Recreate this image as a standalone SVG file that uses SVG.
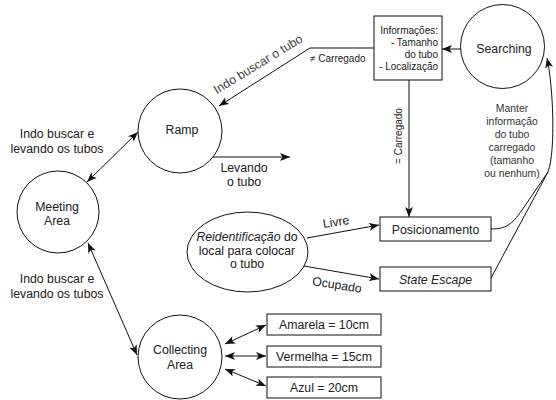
<svg xmlns="http://www.w3.org/2000/svg" width="556" height="400" viewBox="0 0 556 400">
<defs>
<style>
text{font-family:"Liberation Sans",Arial,sans-serif;fill:#222;}
.n{font-size:12.3px;text-anchor:middle;}
.s{font-size:10px;}
.m{font-size:10.4px;text-anchor:middle;fill:#333;}
.shape{fill:#fff;stroke:#111;stroke-width:1;}
.c{fill:none;stroke:#111;stroke-width:1;}
.i{font-style:italic;}
</style>
<marker id="arr" viewBox="0 0 10 8" refX="10" refY="4" markerWidth="10" markerHeight="8" markerUnits="userSpaceOnUse" orient="auto-start-reverse">
<path d="M0,0 L10,4 L0,8 L2.5,4 z" fill="#111"/>
</marker>
</defs>
<rect width="556" height="400" fill="#fff"/>

<g id="connectors">
<path class="c" d="M461,49 L442,49" marker-end="url(#arr)"/>
<path class="c" d="M374,48 L310,48 L219,106" marker-end="url(#arr)"/>
<path class="c" d="M213,157 L290,157" marker-end="url(#arr)"/>
<path class="c" d="M409,80 L409,217" marker-end="url(#arr)"/>
<path class="c" d="M307,238 L379,225" marker-end="url(#arr)"/>
<path class="c" d="M304,266 L379,279" marker-end="url(#arr)"/>
<path class="c" d="M87,182 L138,132" marker-start="url(#arr)" marker-end="url(#arr)"/>
<path class="c" d="M88,243 L137,355" marker-start="url(#arr)" marker-end="url(#arr)"/>
<path class="c" d="M225,344 L266,325" marker-start="url(#arr)" marker-end="url(#arr)"/>
<path class="c" d="M225,356 L266,356" marker-start="url(#arr)" marker-end="url(#arr)"/>
<path class="c" d="M225,369 L266,386" marker-start="url(#arr)" marker-end="url(#arr)"/>
<path class="c" d="M491,229 C505,229 512,225 522,210 L548,172 C556,150 553,85 547,58" marker-end="url(#arr)"/>
<path class="c" d="M491,278 L548,172"/>
<text class="s" x="310" y="62">≠ Carregado</text>
<text class="n" style="fill:#444" transform="translate(258,64) rotate(-31.5)" y="4.3">Indo buscar o tubo</text>
<text class="s" style="text-anchor:middle" transform="translate(398,136) rotate(-90)" y="3.5">= Carregado</text>
<text class="n" x="244" y="171.5">Levando</text>
<text class="n" x="244" y="186">o tubo</text>
<text class="n" x="57" y="137.5">Indo buscar e</text>
<text class="n" x="57" y="152.5">levando os tubos</text>
<text class="n" x="57" y="282.5">Indo buscar e</text>
<text class="n" x="57" y="297.5">levando os tubos</text>
<text class="n" transform="translate(336,222) rotate(-9)" y="4">Livre</text>
<text class="n" transform="translate(337,285) rotate(9)" y="4">Ocupado</text>
<text class="m" x="512" y="111.5">Manter</text>
<text class="m" x="512" y="124.5">informação</text>
<text class="m" x="512" y="137.5">do tubo</text>
<text class="m" x="512" y="150.5">carregado</text>
<text class="m" x="512" y="163.5">(tamanho</text>
<text class="m" x="512" y="176.5">ou nenhum)</text>
</g>

<g id="searching">
<circle class="shape" cx="502.5" cy="46.5" r="42"/>
<text class="n" x="504" y="53">Searching</text>
</g>

<g id="informacoes">
<rect class="shape" x="374" y="16" width="68" height="64"/>
<text class="s" style="text-anchor:end" x="438" y="34">Informações:</text>
<text class="s" style="text-anchor:end" x="438" y="46">- Tamanho</text>
<text class="s" style="text-anchor:end" x="438" y="57.5">do tubo</text>
<text class="s" style="text-anchor:end" x="438" y="69.5">- Localização</text>
</g>

<g id="ramp">
<circle class="shape" cx="180" cy="131" r="42"/>
<text class="n" x="182" y="134">Ramp</text>
</g>

<g id="meeting">
<circle class="shape" cx="58" cy="212" r="41"/>
<text class="n" x="57" y="210.5">Meeting</text>
<text class="n" x="57" y="225">Area</text>
</g>

<g id="collecting">
<circle class="shape" cx="180" cy="357" r="42"/>
<text class="n" x="180" y="354">Collecting</text>
<text class="n" x="180" y="369">Area</text>
</g>

<g id="reidentificacao">
<ellipse class="shape" cx="247.5" cy="252" rx="60.5" ry="40"/>
<text class="n" x="247" y="241"><tspan class="i">Reidentificação</tspan> do</text>
<text class="n" x="247" y="254.5">local para colocar</text>
<text class="n" x="247" y="268">o tubo</text>
</g>

<g id="posicionamento">
<rect class="shape" x="380" y="217" width="111" height="24"/>
<text class="n" x="435.5" y="233.5">Posicionamento</text>
</g>

<g id="state-escape">
<rect class="shape" x="380" y="267" width="111" height="24"/>
<text class="n i" x="435.5" y="283.5">State Escape</text>
</g>

<g id="amarela">
<rect class="shape" x="267" y="314" width="114" height="21"/>
<text class="n" x="324" y="329">Amarela = 10cm</text>
</g>

<g id="vermelha">
<rect class="shape" x="267" y="346" width="114" height="21"/>
<text class="n" x="324" y="361">Vermelha = 15cm</text>
</g>

<g id="azul">
<rect class="shape" x="267" y="377" width="114" height="21"/>
<text class="n" x="324" y="392">Azul = 20cm</text>
</g>
</svg>
